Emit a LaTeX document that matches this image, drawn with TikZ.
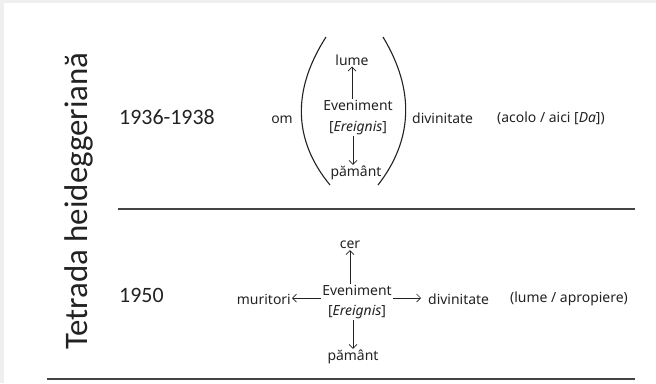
\documentclass[tikz,border=0pt]{standalone}
\usepackage{fontspec}
\setmainfont{Noto Sans}
\newfontfamily\titlefont{Carlito}
\usetikzlibrary{arrows.meta}
\definecolor{ink}{HTML}{222222}
\definecolor{rulec}{HTML}{444444}
\definecolor{edge}{HTML}{EFEFEF}
\begin{document}
\begin{tikzpicture}[x=1bp,y=-1bp,
  lab/.style={font=\fontsize{14}{20.5}\selectfont, text=ink, inner sep=1bp},
  evt/.style={lab, align=center},
  yr/.style={font=\titlefont\fontsize{22}{24}\selectfont, text=ink, inner sep=0pt, anchor=west},
  arr/.style={draw=ink, line width=0.7bp, -{Straight Barb[length=4bp,width=8bp]}},
  paren/.style={draw=ink, line width=1.1bp},
  hrule/.style={draw=rulec, line width=1.4bp}]
\useasboundingbox (0,0) rectangle (656,383);
\fill[edge] (0,0) rectangle (656,383);
\fill[white] (4,3) rectangle (656,383);

\node[font=\titlefont\fontsize{33}{36}\selectfont, text=ink, rotate=90, inner sep=0pt] (title) at (79,201) {Tetrada heideggeriană};

\node[yr] (y1) at (119,117) {1936-1938};
\node[yr] (y2) at (119,295) {1950};

% top section
\node[lab] (om) at (282,120) {om};
\node[lab] (lume1) at (352,60) {lume};
\node[evt] (ev1) at (358,117.5) {Eveniment\\{[}\textit{Ereignis}{]}};
\node[lab] (pam1) at (356,173) {pământ};
\node[lab, anchor=west] (div1) at (411,118) {divinitate};
\node[lab, anchor=west] (note1) at (496,118) {(acolo / aici {[}\textit{Da}{]})};
\draw[arr] (lume1.south |- ev1.north) -- (lume1.south);
\draw[arr] ([xshift=-3bp]pam1.north |- ev1.south) -- ([xshift=-3bp]pam1.north);
\draw[paren] (326,37) .. controls (292,90) and (293,140) .. (330,185);
\draw[paren] (383,37) .. controls (415,90) and (413,140) .. (378,185);

\draw[hrule] (118,209) -- (635,209);

% bottom section
\node[lab] (cer) at (350,245) {cer};
\node[evt] (ev2) at (357,302) {Eveniment\\{[}\textit{Ereignis}{]}};
\node[lab] (pam2) at (353,357) {pământ};
\node[lab, anchor=east] (mur) at (292,299) {muritori};
\node[lab, anchor=west] (div2) at (427,299) {divinitate};
\node[lab, anchor=west] (note2) at (509,299) {(lume / apropiere)};
\draw[arr] (cer.south |- ev2.north) -- (cer.south);
\draw[arr] (ev2.south -| pam2.north) -- (pam2.north);
\draw[arr] ([yshift=4bp]ev2.west) -- ([yshift=4bp]ev2.west -| mur.east);
\draw[arr, shorten >=6bp] ([yshift=4bp]ev2.east) -- ([yshift=4bp]ev2.east -| div2.west);

\draw[hrule] (47,379) -- (635,379);
\end{tikzpicture}
\end{document}
